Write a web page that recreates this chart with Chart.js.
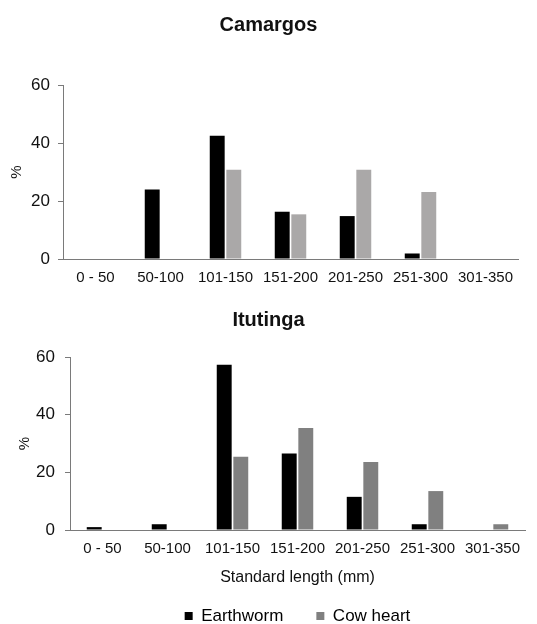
<!DOCTYPE html>
<html>
<head>
<meta charset="utf-8">
<script src="https://cdn.jsdelivr.net/npm/chart.js@4.4.1/dist/chart.umd.min.js"></script>
<style>
    body{ margin:0; background:#fff; width:537px; height:624px; overflow:hidden; }
    .chart-box{ position:absolute; left:0; width:537px; }
    #topBox{ top:0; height:296px; }
    #botBox{ top:296px; height:328px; }
</style>
</head>
<body>

<div class="chart-box" id="topBox"><canvas id="camargosChart"></canvas></div>
<div class="chart-box" id="botBox"><canvas id="itutingaChart"></canvas></div>

<script>
/* =========================
   DATA
========================= */

const lengthClasses = ['0 - 50', '50-100', '101-150', '151-200', '201-250', '251-300', '301-350'];

const camargosEarthworm = [0, 24, 42.5, 16.3, 14.8, 1.9, 0];
const camargosCowHeart  = [0, 0, 30.8, 15.4, 30.8, 23.1, 0];

const itutingaEarthworm = [1, 2, 57.3, 26.5, 11.5, 2, 0];
const itutingaCowHeart  = [0, 0, 25.4, 35.4, 23.6, 13.5, 2];

const yMax = 60;
const yStep = 20;

/* =========================
   CHART SETUP
========================= */

Chart.defaults.font.family = "'Liberation Sans', Arial, sans-serif";
Chart.defaults.color = '#111';
Chart.defaults.animation = false;

const axisGray = '#7a7a7a';

function makeChart(canvasId, opts){

    return new Chart(document.getElementById(canvasId), {
        type: 'bar',

        data: {
            labels: lengthClasses,
            datasets: [{
                label: 'Earthworm',
                data: opts.earthworm,
                backgroundColor: '#000000',
                categoryPercentage: 0.51,
                barPercentage: 0.9
            },{
                label: 'Cow heart',
                data: opts.cowHeart,
                backgroundColor: opts.cowColor,
                categoryPercentage: 0.51,
                barPercentage: 0.9
            }]
        },

        options: {
            responsive: true,
            maintainAspectRatio: false,

            layout: {
                padding: 0
            },

            plugins: {
                title: {
                    display: true,
                    text: opts.title,
                    font: { size: 20, weight: 'bold' },
                    color: '#111',
                    padding: opts.titlePad
                },
                legend: {
                    display: opts.showLegend,
                    position: 'bottom',
                    fullSize: false,
                    maxHeight: opts.legendHeight,
                    labels: {
                        boxWidth: 8,
                        boxHeight: 8,
                        padding: 33,
                        font: { size: 17 },
                        color: '#111',
                        generateLabels: function(chart){
                            return chart.data.datasets.map(function(ds, i){
                                return {
                                    text: ds.label,
                                    fillStyle: i === 0 ? '#000' : '#808080',
                                    strokeStyle: i === 0 ? '#000' : '#808080',
                                    lineWidth: 0,
                                    datasetIndex: i
                                };
                            });
                        }
                    }
                },
                tooltip: { enabled: false }
            },

            scales: {
                x: {
                    grid: { display: false, drawTicks: false },
                    border: { color: axisGray, width: 1 },
                    ticks: {
                        font: { size: 15 },
                        color: '#111',
                        padding: 10,
                        maxRotation: 0,
                        autoSkip: false
                    },
                    title: {
                        display: opts.showXTitle,
                        text: 'Standard length (mm)',
                        font: { size: 16 },
                        color: '#111',
                        padding: { top: 0, bottom: opts.xTitlePad }
                    },
                    afterFit: function(scale){
                        scale.height = opts.xHeight;
                    }
                },

                y: {
                    min: 0,
                    max: yMax,
                    grid: {
                        drawOnChartArea: false,
                        drawTicks: true,
                        tickLength: 5,
                        color: axisGray
                    },
                    border: { color: axisGray, width: 1 },
                    ticks: {
                        stepSize: yStep,
                        font: { size: 17 },
                        color: '#111',
                        padding: opts.yTickPad
                    },
                    title: {
                        display: true,
                        text: '%',
                        font: { size: 15 },
                        color: '#111',
                        padding: { top: opts.yTitlePad, bottom: 0 }
                    },
                    afterFit: function(scale){
                        scale.width = opts.yWidth;
                    }
                },

                // empty spacer on the right so the title stays centred on the page
                yRight: {
                    position: 'right',
                    grid: { display: false },
                    border: { display: false },
                    ticks: { display: false },
                    afterFit: function(scale){
                        scale.width = opts.rightGap;
                    }
                }
            }
        }
    });
}

makeChart('camargosChart', {
    title: 'Camargos',
    earthworm: camargosEarthworm,
    cowHeart: camargosCowHeart,
    cowColor: '#aaa8a8',
    showLegend: false,
    legendHeight: 0,
    showXTitle: false,
    xTitlePad: 0,
    titlePad: { top: 13, bottom: 48 },
    rightGap: 19,
    xHeight: 37,
    yWidth: 63,
    yTickPad: 8,
    yTitlePad: 8
});

makeChart('itutingaChart', {
    title: 'Itutinga',
    earthworm: itutingaEarthworm,
    cowHeart: itutingaCowHeart,
    cowColor: '#808080',
    showLegend: true,
    legendHeight: 49.5,
    showXTitle: true,
    xTitlePad: -13,
    titlePad: { top: 12, bottom: 25 },
    rightGap: 12,
    xHeight: 44.5,
    yWidth: 70,
    yTickPad: 10,
    yTitlePad: 16
});
</script>

</body>
</html>
